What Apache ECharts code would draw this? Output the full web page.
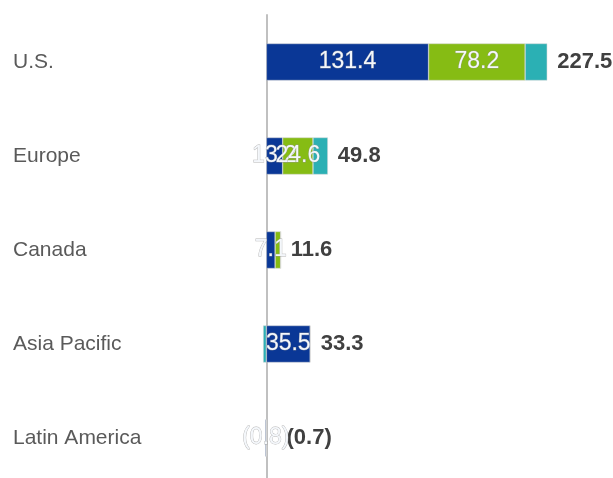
<!DOCTYPE html>
<html>
<head>
<meta charset="utf-8">
<style>
  html, body { margin: 0; padding: 0; background: #ffffff; overflow: hidden; }
  #chart { width: 613px; height: 478px; }
</style>
<script src="https://cdn.jsdelivr.net/npm/echarts@6/dist/echarts.min.js"></script>
</head>
<body>
<div id="chart"></div>
<script>
const categories = ['U.S.', 'Europe', 'Canada', 'Asia Pacific', 'Latin America'];
const seriesBlue = [131.4, 13.2, 7.1, 35.5, -0.8];
const seriesGreen = [78.2, 24.6, 4.5, 0.4, 0.1];
const seriesTeal = [17.9, 12.0, 0, -2.6, 0];
const totals = [227.5, 49.8, 11.6, 33.3, -0.7];

const FONT = '"Liberation Sans", Arial, sans-serif';
const fmtNum = v => v < 0 ? '(' + Math.abs(v).toFixed(1) + ')' : v.toFixed(1);

// end of the positive part of each stacked bar (where the total label sits)
const positiveEnd = categories.map((_, i) =>
  [seriesBlue[i], seriesGreen[i], seriesTeal[i]].reduce((s, v) => s + Math.max(0, v), 0));

const insideLabel = (minShow) => ({
  show: true,
  position: 'inside',
  fontFamily: FONT,
  fontSize: 23,
  color: '#f4f7fb',
  textBorderColor: 'rgba(150,150,150,0.7)',
  textBorderWidth: 0.8,
  formatter: p => (p.value === 0 || Math.abs(p.value) < minShow) ? '' : fmtNum(p.value)
});

const chart = echarts.init(document.getElementById('chart'), null, { renderer: 'canvas' });
chart.setOption({
  animation: false,
  backgroundColor: '#ffffff',
  grid: { left: 254, top: 15, width: 321, height: 470, containLabel: false, outerBoundsMode: 'none' },
  xAxis: {
    type: 'value',
    min: -10,
    max: 250,
    show: false
  },
  yAxis: {
    type: 'category',
    data: categories,
    inverse: true,
    axisLine: { show: true, onZero: true, lineStyle: { color: '#c0c0c0', width: 2 } },
    axisTick: { show: false },
    axisLabel: {
      align: 'left',
      margin: 241,
      fontFamily: FONT,
      fontSize: 21,
      color: '#5a5a5a'
    }
  },
  series: [
    {
      name: 'blue', type: 'bar', stack: 'a', barWidth: 37,
      data: seriesBlue,
      itemStyle: { color: '#0a3796', borderColor: '#d4d4d4', borderWidth: 0.5 },
      label: insideLabel(0)
    },
    {
      name: 'green', type: 'bar', stack: 'a', barWidth: 37,
      data: seriesGreen,
      itemStyle: { color: '#86bc14', borderColor: '#d4d4d4', borderWidth: 0.5 },
      label: insideLabel(10)
    },
    {
      name: 'teal', type: 'bar', stack: 'a', barWidth: 37,
      data: seriesTeal,
      itemStyle: { color: '#2bb0b4', borderColor: '#d4d4d4', borderWidth: 0.5 },
      label: { show: false }
    },
    {
      // invisible overlay reaching the end of the positive stack, carrying the total label
      name: 'total', type: 'bar', barWidth: 37, barGap: '-100%',
      data: positiveEnd.map((v, i) => ({ value: v, label: totals[i] < 0 ? { distance: 20 } : {} })),
      itemStyle: { color: 'rgba(0,0,0,0)', borderWidth: 0 },
      z: 1,
      label: {
        show: true,
        position: 'right',
        distance: 10,
        fontFamily: FONT,
        fontSize: 22,
        fontWeight: 'bold',
        color: '#404040',
        formatter: p => fmtNum(totals[p.dataIndex])
      }
    }
  ]
});
</script>
</body>
</html>
